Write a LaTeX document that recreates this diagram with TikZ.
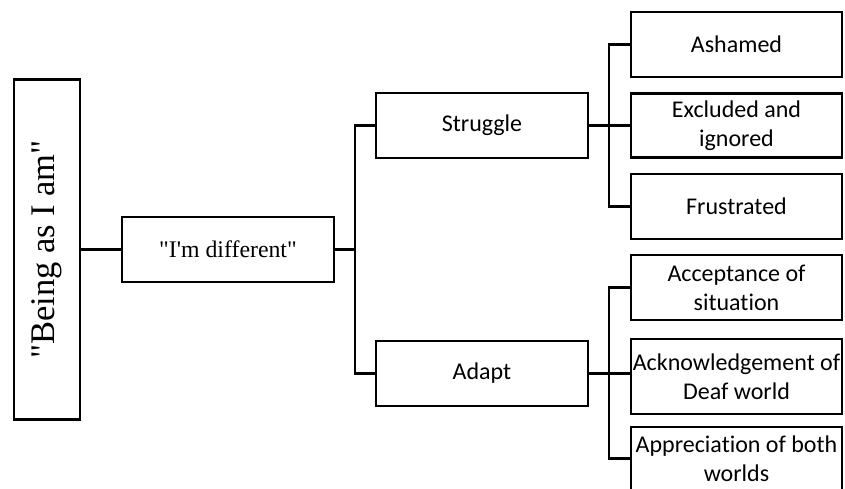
\documentclass[tikz,border=0pt]{standalone}
\usepackage{fontspec}
\newfontfamily\timesf{Liberation Serif}
\newfontfamily\calibri{Carlito}[Ligatures=NoCommon]
\begin{document}
\begin{tikzpicture}[x=1pt,y=-1pt,
  line width=2.4pt, line join=miter,
  box/.style={draw=black, fill=white, inner sep=0pt, align=center},
  serifbox/.style={box, font=\timesf\fontsize{23.8}{28}\selectfont},
  leafbox/.style={box, minimum width=211pt, font=\calibri\fontsize{24}{29}\selectfont},
  midbox/.style={box, minimum width=212pt, minimum height=65pt, font=\calibri\fontsize{24}{29}\selectfont}]
\useasboundingbox (0,0) rectangle (845,488);

% root and first level
\node[box, rotate=90, minimum width=340pt, minimum height=66pt,
      font=\timesf\fontsize{34.5}{40}\selectfont] (being) at (47,249.5) {"Being as I am"};
\node[serifbox, minimum width=212pt, minimum height=65pt] (diff) at (228,249.5) {"I'm different"};

% second level
\node[midbox] (struggle) at (482,125.5) {Struggle};
\node[midbox] (adapt) at (482,373.5) {Adapt};

% leaves under Struggle
\node[leafbox, minimum height=65pt] (ashamed) at (736.5,44.5) {Ashamed};
\node[leafbox, minimum height=64pt] (excluded) at (736.5,125.5) {Excluded and\\ignored};
\node[leafbox, minimum height=65pt] (frustrated) at (736.5,206.5) {Frustrated};

% leaves under Adapt
\node[leafbox, minimum height=65pt] (accept) at (736.5,287.5) {Acceptance of\\situation};
\node[leafbox, minimum height=75pt] (ack) at (736.5,376.5) {Acknowledgement of\\Deaf world};
\node[leafbox, minimum height=63pt] (appr) at (736.5,458.5) {Appreciation of both\\worlds};

% junction points of the brackets
\coordinate (j1) at (355,249.5);
\coordinate (j2) at (609,125.5);
\coordinate (j3) at (609,373.5);

% connectors
\draw (being) -- (diff);
\draw (diff) -- (j1);
\draw (struggle.west) -| (j1) |- (adapt.west);
\draw (struggle) -- (j2);
\draw (ashamed.west) -| (j2) |- (frustrated.west);
\draw (j2) -- (excluded.west);
\draw (adapt) -- (j3);
\draw (accept.west) -| (j3) |- (appr.west);
\draw (j3) -- (j3 -| ack.west);
\end{tikzpicture}
\end{document}
